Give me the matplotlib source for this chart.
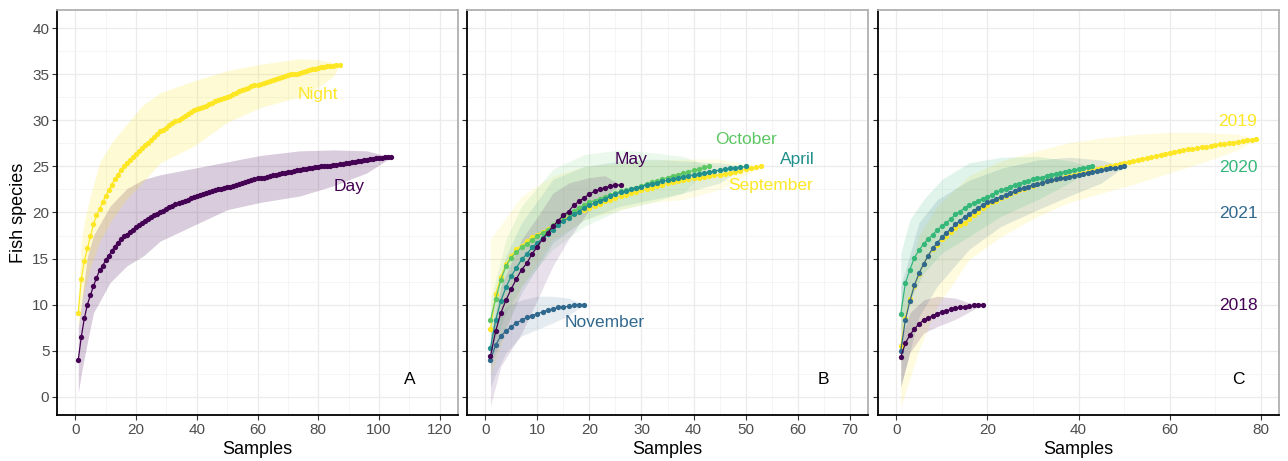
import matplotlib
matplotlib.use("Agg")
import matplotlib.pyplot as plt
import numpy as np

plt.rcParams['font.family'] = ['Liberation Sans', 'DejaVu Sans']

# species accumulation means, one value per sample
night = [9.1, 12.8, 14.7, 16.1, 17.4, 18.7, 19.7, 20.4, 21.1, 21.8,
         22.4, 23.0, 23.6, 24.1, 24.6, 25.0, 25.4, 25.7, 26.0, 26.4,
         26.7, 27.0, 27.3, 27.6, 27.9, 28.2, 28.5, 28.8, 29.0, 29.2,
         29.5, 29.7, 29.9, 30.1, 30.3, 30.5, 30.7, 30.9, 31.1, 31.2,
         31.4, 31.5, 31.6, 31.8, 31.9, 32.1, 32.2, 32.3, 32.4, 32.6,
         32.7, 32.9, 33.0, 33.2, 33.3, 33.4, 33.5, 33.7, 33.8, 33.9,
         34.0, 34.1, 34.2, 34.3, 34.4, 34.5, 34.6, 34.7, 34.8, 34.9,
         35.0, 35.1, 35.1, 35.2, 35.3, 35.4, 35.5, 35.6, 35.6, 35.7,
         35.8, 35.8, 35.9, 35.9, 35.95, 36.0, 36.0]
day = [4.0, 6.5, 8.5, 10.0, 11.0, 12.0, 12.9, 13.7, 14.2, 14.8,
       15.3, 15.8, 16.3, 16.7, 17.1, 17.4, 17.6, 17.9, 18.1, 18.4,
       18.6, 18.9, 19.1, 19.3, 19.5, 19.7, 19.8, 20.0, 20.2, 20.4,
       20.6, 20.7, 20.9, 21.0, 21.1, 21.3, 21.4, 21.6, 21.7, 21.8,
       21.9, 22.0, 22.1, 22.2, 22.3, 22.4, 22.5, 22.6, 22.7, 22.8,
       22.8, 22.9, 23.0, 23.1, 23.2, 23.3, 23.4, 23.5, 23.6, 23.7,
       23.8, 23.8, 23.9, 24.0, 24.1, 24.1, 24.2, 24.3, 24.3, 24.4,
       24.4, 24.5, 24.6, 24.6, 24.7, 24.7, 24.8, 24.8, 24.9, 24.9,
       25.0, 25.0, 25.1, 25.1, 25.2, 25.2, 25.3, 25.3, 25.4, 25.4,
       25.5, 25.5, 25.6, 25.6, 25.7, 25.7, 25.8, 25.8, 25.9, 25.9,
       25.9, 26.0, 26.0, 26.0]

may = [4.4, 7.1, 9.1, 10.5, 11.7, 12.8, 13.8, 14.5, 15.5, 16.3,
       17.1, 17.8, 18.5, 19.1, 19.7, 20.1, 20.8, 21.2, 21.6, 22.0,
       22.3, 22.5, 22.7, 22.85, 22.95, 23.0]
november = [4.0, 5.6, 6.6, 7.1, 7.6, 8.0, 8.3, 8.6, 8.8, 9.0,
            9.2, 9.4, 9.5, 9.7, 9.75, 9.8, 9.9, 10.0, 10.0]
april = [5.3, 8.3, 10.4, 11.9, 13.1, 14.0, 14.9, 15.5, 16.2, 16.7,
         17.2, 17.7, 18.1, 18.6, 19.1, 19.4, 19.8, 20.1, 20.5, 20.8,
         21.0, 21.3, 21.5, 21.8, 22.0, 22.2, 22.3, 22.5, 22.7, 22.8,
         23.0, 23.1, 23.2, 23.4, 23.5, 23.6, 23.7, 23.9, 24.0, 24.1,
         24.2, 24.3, 24.4, 24.5, 24.6, 24.7, 24.8, 24.85, 24.9, 25.0]
october = [8.3, 10.6, 12.7, 14.2, 15.1, 15.7, 16.2, 16.6, 17.0, 17.4,
           17.8, 18.1, 18.6, 19.1, 19.6, 19.9, 20.2, 20.5, 20.8, 21.1,
           21.3, 21.5, 21.7, 21.9, 22.1, 22.3, 22.4, 22.6, 22.7, 22.9,
           23.1, 23.3, 23.4, 23.6, 23.8, 24.0, 24.1, 24.3, 24.4, 24.6,
           24.7, 24.9, 25.0]
september = [7.3, 11.1, 13.0, 14.4, 15.3, 16.0, 16.4, 16.9, 17.3, 17.6,
             17.9, 18.2, 18.5, 18.9, 19.2, 19.5, 19.8, 20.0, 20.3, 20.5,
             20.7, 20.9, 21.2, 21.4, 21.6, 21.8, 21.9, 22.1, 22.2, 22.4,
             22.6, 22.7, 22.9, 23.0, 23.2, 23.3, 23.4, 23.5, 23.6, 23.7,
             23.8, 23.9, 24.0, 24.05, 24.1, 24.2, 24.3, 24.4, 24.55, 24.7,
             24.8, 24.9, 25.0]

y2018 = [4.3, 5.8, 6.7, 7.35, 7.9, 8.3, 8.5, 8.8, 9.0, 9.2,
         9.3, 9.5, 9.6, 9.7, 9.75, 9.8, 9.9, 10.0, 10.0]
y2019 = [5.5, 8.5, 10.6, 12.0, 13.3, 14.4, 15.3, 16.0, 16.5, 17.1,
         17.5, 17.9, 18.3, 18.6, 18.9, 19.3, 19.7, 20.1, 20.5, 20.8,
         21.1, 21.3, 21.6, 21.8, 22.0, 22.2, 22.4, 22.6, 22.8, 22.9,
         23.1, 23.2, 23.4, 23.5, 23.6, 23.7, 23.9, 24.0, 24.1, 24.2,
         24.3, 24.4, 24.6, 24.7, 24.8, 24.9, 25.0, 25.2, 25.3, 25.4,
         25.5, 25.6, 25.7, 25.8, 25.9, 26.0, 26.1, 26.3, 26.4, 26.5,
         26.6, 26.7, 26.8, 26.85, 26.9, 27.0, 27.1, 27.15, 27.2, 27.3,
         27.4, 27.45, 27.5, 27.6, 27.7, 27.75, 27.85, 27.9, 28.0]
y2020 = [9.0, 12.3, 13.8, 15.1, 15.9, 16.6, 17.1, 17.6, 18.1, 18.5,
         18.9, 19.3, 19.8, 20.1, 20.5, 20.8, 21.0, 21.3, 21.5, 21.7,
         21.9, 22.2, 22.4, 22.6, 22.8, 23.0, 23.1, 23.3, 23.4, 23.6,
         23.7, 23.8, 24.0, 24.1, 24.2, 24.3, 24.4, 24.5, 24.6, 24.7,
         24.8, 24.9, 25.0]
y2021 = [5.0, 8.3, 10.4, 12.1, 13.4, 14.4, 15.3, 16.1, 16.7, 17.3,
         17.8, 18.2, 18.7, 19.1, 19.5, 19.8, 20.2, 20.5, 20.8, 21.1,
         21.3, 21.5, 21.7, 21.9, 22.1, 22.3, 22.5, 22.7, 22.8, 23.0,
         23.1, 23.2, 23.4, 23.5, 23.6, 23.7, 23.8, 23.9, 24.0, 24.1,
         24.2, 24.3, 24.4, 24.5, 24.6, 24.7, 24.8, 24.85, 24.9, 25.0]

# confidence bands: (sample, lower, upper)
night_band_x = [1, 2, 3, 5, 8, 12, 17, 22, 28, 39, 50, 61, 74, 80, 85, 87]
night_band_lo = [7.5, 9.5, 11.5, 14.0, 16.8, 19.2, 21.5, 23.2, 25.4, 27.2, 29.8, 31.4, 32.6, 33.6, 34.8, 36.0]
night_band_hi = [11.0, 16.7, 19.0, 21.8, 25.4, 27.6, 29.6, 31.6, 33.0, 34.3, 35.4, 36.1, 36.7, 36.6, 36.3, 36.0]
day_band_x = [1, 2, 4, 6, 11.5, 17, 22.5, 28, 39, 50, 61, 74, 85, 96, 104]
day_band_lo = [0.4, 2.5, 5.9, 9.1, 12.4, 14.2, 15.3, 16.9, 18.6, 20.3, 21.1, 21.8, 22.9, 24.3, 26.0]
day_band_hi = [7.5, 10.0, 15.2, 17.5, 20.7, 22.6, 23.6, 24.1, 24.8, 25.5, 26.2, 26.7, 26.8, 26.7, 26.0]

may_band_x = [1, 3, 7, 10, 13, 16, 20, 23, 26]
may_band_lo = [-1.0, 3.3, 6.9, 10.5, 14.2, 17.1, 20.3, 21.8, 23.0]
may_band_hi = [6.2, 12.0, 17.1, 19.5, 22.1, 23.2, 23.8, 24.0, 23.0]
nov_band_x = [1, 2, 4, 7, 10, 13, 16, 19]
nov_band_lo = [1.0, 2.5, 4.8, 6.6, 7.3, 8.0, 8.8, 10.0]
nov_band_hi = [7.0, 8.5, 9.8, 10.5, 10.9, 10.9, 10.7, 10.0]
apr_band_x = [1, 4, 7, 13, 19, 26, 32, 38, 45, 50]
apr_band_lo = [3.3, 7.5, 11.3, 16.7, 19.2, 20.7, 21.4, 22.1, 23.2, 25.0]
apr_band_hi = [9.1, 15.3, 18.9, 23.6, 25.0, 25.6, 25.8, 25.6, 25.4, 25.0]
oct_band_x = [1, 4, 7, 13, 19, 26, 32, 38, 43]
oct_band_lo = [4.8, 9.1, 12.0, 16.0, 18.5, 20.3, 21.1, 22.1, 25.0]
oct_band_hi = [10.5, 17.1, 20.7, 24.7, 26.3, 26.8, 26.5, 26.1, 25.0]
sep_band_x = [1, 7, 13, 19, 26, 32, 38, 45, 53]
sep_band_lo = [2.2, 12.0, 17.1, 19.2, 20.3, 21.1, 21.4, 22.5, 25.0]
sep_band_hi = [17.1, 21.8, 24.0, 25.0, 25.4, 25.7, 25.8, 25.8, 25.0]

b2018_x = [1, 3, 6, 9, 13, 16, 19]
b2018_lo = [1.1, 4.8, 6.9, 7.6, 8.4, 9.2, 10.0]
b2018_hi = [6.2, 9.1, 10.5, 10.9, 10.7, 10.2, 10.0]
b2019_x = [1, 5, 9, 16, 23, 31, 38, 45, 53, 60, 67, 75, 79]
b2019_lo = [-1.1, 5.1, 9.8, 14.9, 17.4, 19.6, 21.1, 22.1, 23.2, 24.3, 25.4, 26.8, 28.0]
b2019_hi = [9.8, 17.5, 20.7, 24.0, 25.6, 26.7, 27.6, 28.1, 28.5, 28.7, 28.7, 28.5, 28.0]
b2020_x = [1, 3, 6, 10, 16, 23, 31, 38, 43]
b2020_lo = [6.9, 10.5, 13.4, 15.6, 17.4, 19.6, 21.4, 23.2, 25.0]
b2020_hi = [15.6, 19.2, 21.4, 23.6, 25.4, 26.0, 26.1, 25.6, 25.0]
b2021_x = [1, 5, 9, 16, 23, 31, 38, 45, 50]
b2021_lo = [1.1, 8.7, 12.0, 16.0, 18.5, 20.3, 21.8, 23.2, 25.0]
b2021_hi = [12.0, 18.9, 21.4, 23.5, 24.8, 25.7, 26.0, 25.7, 25.0]

PURPLE = '#440154'
BLUE = '#31688E'
TEAL = '#21908C'
GREEN = '#5DC863'
GREEN4 = '#35B779'
YELLOW = '#FDE725'


def curve(ax, y, bx, lo, hi, color, alpha=0.2):
    x = np.arange(1, len(y) + 1)
    ax.fill_between(bx, lo, hi, color=color, alpha=alpha, lw=0, zorder=1)
    ax.plot(x, y, color=color, lw=0.9, marker='o', ms=3.8, mew=0, zorder=3)


def style(ax, xmax, xstep, show_y):
    ax.set_xlim(-0.05 * xmax, 1.05 * xmax)
    ax.set_ylim(-2, 42)
    ax.set_xticks(np.arange(0, xmax + 1, xstep))
    ax.set_xticks(np.arange(xstep / 2, xmax + 1, xstep), minor=True)
    ax.set_yticks(np.arange(0, 41, 5))
    ax.set_yticks(np.arange(2.5, 41, 5), minor=True)
    ax.grid(which='major', color='#ebebeb', lw=0.9)
    ax.grid(which='minor', color='#f4f4f4', lw=0.6)
    ax.set_axisbelow(True)
    ax.tick_params(which='major', direction='out', length=3.5, width=0.8,
                   color='#333333', labelsize=11, labelcolor='#4d4d4d', pad=2)
    ax.tick_params(which='minor', length=0)
    if not show_y:
        ax.tick_params(axis='y', labelleft=False)
    for s in ('left', 'bottom'):
        ax.spines[s].set_color('black')
        ax.spines[s].set_linewidth(1.3)
    for s in ('top', 'right'):
        ax.spines[s].set_color('#b0b0b0')
        ax.spines[s].set_linewidth(1.3)
    ax.set_xlabel('Samples', fontsize=13, labelpad=3)


fig = plt.figure(figsize=(12.88, 4.61), dpi=100)
W, H = 1288, 461
axA = fig.add_axes([57 / W, 1 - 415 / H, 401 / W, 405 / H])
axB = fig.add_axes([467 / W, 1 - 415 / H, 401 / W, 405 / H])
axC = fig.add_axes([878 / W, 1 - 415 / H, 401 / W, 405 / H])

lab = dict(fontsize=12.5, ha='center', va='center')

# A: day vs night
curve(axA, day, day_band_x, day_band_lo, day_band_hi, PURPLE)
curve(axA, night, night_band_x, night_band_lo, night_band_hi, YELLOW)
style(axA, 120, 20, True)
axA.set_ylabel('Fish species', fontsize=13, labelpad=4)
axA.text(80, 32.8, 'Night', color=YELLOW, **lab)
axA.text(90, 22.8, 'Day', color=PURPLE, **lab)
axA.text(110, 1.9, 'A', color='black', **lab)

# B: months
curve(axB, september, sep_band_x, sep_band_lo, sep_band_hi, YELLOW, 0.12)
curve(axB, october, oct_band_x, oct_band_lo, oct_band_hi, GREEN, 0.12)
curve(axB, april, apr_band_x, apr_band_lo, apr_band_hi, TEAL, 0.12)
curve(axB, november, nov_band_x, nov_band_lo, nov_band_hi, BLUE, 0.12)
curve(axB, may, may_band_x, may_band_lo, may_band_hi, PURPLE, 0.12)
style(axB, 70, 10, False)
axB.text(28, 25.8, 'May', color=PURPLE, **lab)
axB.text(50, 27.9, 'October', color=GREEN, **lab)
axB.text(60, 25.8, 'April', color=TEAL, **lab)
axB.text(54.8, 22.9, 'September', color=YELLOW, **lab)
axB.text(23, 8.0, 'November', color=BLUE, **lab)
axB.text(65, 1.9, 'B', color='black', **lab)

# C: years
curve(axC, y2019, b2019_x, b2019_lo, b2019_hi, YELLOW, 0.15)
curve(axC, y2021, b2021_x, b2021_lo, b2021_hi, BLUE, 0.15)
curve(axC, y2020, b2020_x, b2020_lo, b2020_hi, GREEN4, 0.15)
curve(axC, y2018, b2018_x, b2018_lo, b2018_hi, PURPLE, 0.15)
style(axC, 80, 20, False)
axC.text(75, 29.9, '2019', color=YELLOW, **lab)
axC.text(75, 24.9, '2020', color=GREEN4, **lab)
axC.text(75, 19.9, '2021', color=BLUE, **lab)
axC.text(75, 9.9, '2018', color=PURPLE, **lab)
axC.text(75, 1.9, 'C', color='black', **lab)

fig.savefig('out.png', dpi=100)
